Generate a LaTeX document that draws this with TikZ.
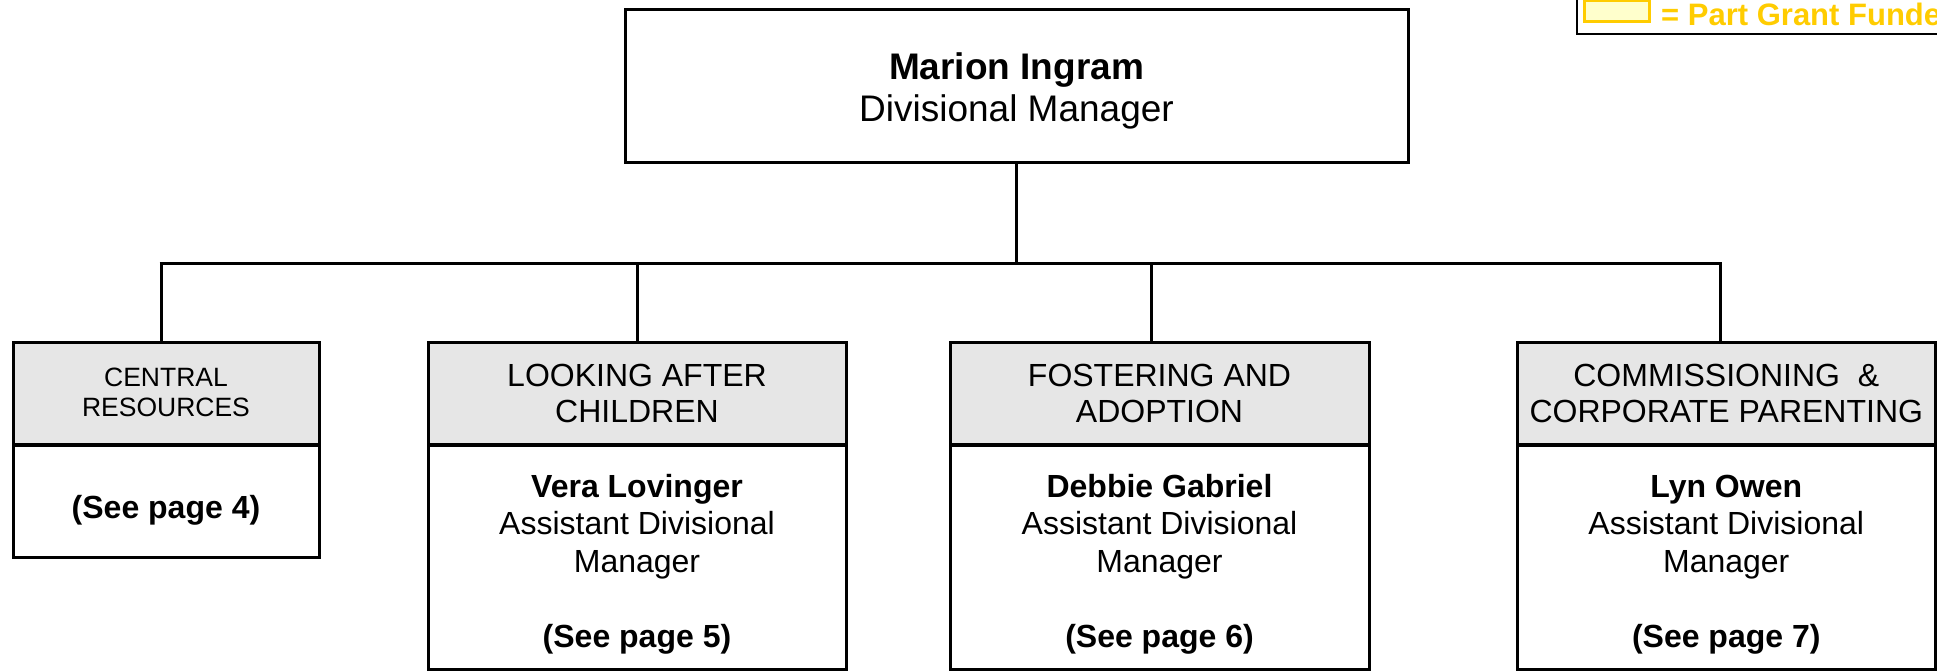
\documentclass[tikz,border=0pt]{standalone}
\usepackage{fontspec}
\setmainfont{Liberation Sans}
\usetikzlibrary{fit}
\definecolor{hdrgray}{HTML}{E6E6E6}
\definecolor{grantyellow}{HTML}{FFCC00}
\definecolor{grantfill}{HTML}{FFFFCC}
\newcommand{\mylines}[1]{\begin{tabular}[t]{@{}c@{}}#1\end{tabular}}
\begin{document}
\begin{tikzpicture}[x=1pt,y=-1pt,
  box/.style={draw=black, line width=3pt, inner sep=0pt, outer sep=0pt},
  hdr/.style={box, fill=hdrgray},
  body/.style={box, fill=white},
  txt/.style={inner sep=0pt, outer sep=0pt, anchor=base},
  toptxt/.style={txt, font=\fontsize{37}{42}\selectfont},
  hdrtxt/.style={txt, font=\fontsize{32}{36}\selectfont},
  hdrsmalltxt/.style={txt, font=\fontsize{26.5}{30.5}\selectfont},
  bodytxt/.style={txt, font=\fontsize{32}{37.5}\selectfont},
  conn/.style={draw=black, line width=3pt},
  divider/.style={draw=black, line width=4.5pt},
]
\useasboundingbox (0,0) rectangle (1937,671);
\clip (0,0) rectangle (1937,671);

% legend
\draw[line width=1.5pt] (1577,-10) rectangle (1960,34);
\node[draw=grantyellow, fill=grantfill, line width=3pt, inner sep=0pt, fit={(1584.5,0.5) (1649.5,21.5)}] (legbox) {};
\node[anchor=base west, inner sep=0pt, text=grantyellow, font=\fontsize{31}{36}\selectfont\bfseries] (legtext) at (1661,26) {= Part Grant Funde};

% baselines
\coordinate (blTop) at (0,80);
\coordinate (blHdr) at (0,386);
\coordinate (blBody) at (0,497);
\coordinate (blBodyOne) at (0,518);

% top box
\node[box, fill=white, fit={(625,9.5) (1408,163)}] (top) {};
\node[toptxt] (topt) at (top.center |- blTop) {\mylines{\textbf{Marion Ingram}\\Divisional Manager}};

% headers
\node[hdr, fit={(13,342) (319,445)}] (h1) {};
\node[hdr, fit={(428,342) (846,445)}] (h2) {};
\node[hdr, fit={(950,342) (1369,445)}] (h3) {};
\node[hdr, fit={(1517,342) (1935.5,445)}] (h4) {};
\node[hdrsmalltxt] (h1t) at (h1.center |- blHdr) {\mylines{CENTRAL\\RESOURCES}};
\node[hdrtxt] (h2t) at (h2.center |- blHdr) {\mylines{LOOKING AFTER\\CHILDREN}};
\node[hdrtxt] (h3t) at (h3.center |- blHdr) {\mylines{FOSTERING AND\\ADOPTION}};
\node[hdrtxt] (h4t) at (h4.center |- blHdr) {\mylines{COMMISSIONING\ \ \&\\CORPORATE PARENTING}};

% bodies
\node[body, fit={(13,445) (319,557)}] (b1) {};
\node[body, fit={(428,445) (846,669.5)}] (b2) {};
\node[body, fit={(950,445) (1369,669.5)}] (b3) {};
\node[body, fit={(1517,445) (1935.5,669.5)}] (b4) {};
\node[bodytxt] (b1t) at (b1.center |- blBodyOne) {\textbf{(See page 4)}};
\node[bodytxt] (b2t) at (b2.center |- blBody) {\mylines{\textbf{Vera Lovinger}\\Assistant Divisional\\Manager\\[37.5pt]\textbf{(See page 5)}}};
\node[bodytxt] (b3t) at (b3.center |- blBody) {\mylines{\textbf{Debbie Gabriel}\\Assistant Divisional\\Manager\\[37.5pt]\textbf{(See page 6)}}};
\node[bodytxt] (b4t) at (b4.center |- blBody) {\mylines{\textbf{Lyn Owen}\\Assistant Divisional\\Manager\\[37.5pt]\textbf{(See page 7)}}};

% dividers between header and body
\foreach \n in {1,2,3,4} {
  \draw[divider] (h\n.south west) -- (h\n.south east);
}

% connectors
\coordinate (d1) at (161,263);
\coordinate (d2) at (637,263);
\coordinate (d3) at (1151,263);
\coordinate (d4) at (1720,263);
\draw[conn] (top.south) -- (top.south |- d1);
\draw[conn] ([xshift=-1.5pt]d1) -- ([xshift=1.5pt]d4);
\draw[conn] (d1) -- (d1 |- h1.north);
\draw[conn] (d2) -- (d2 |- h2.north);
\draw[conn] (d3) -- (d3 |- h3.north);
\draw[conn] (d4) -- (d4 |- h4.north);
\end{tikzpicture}
\end{document}
